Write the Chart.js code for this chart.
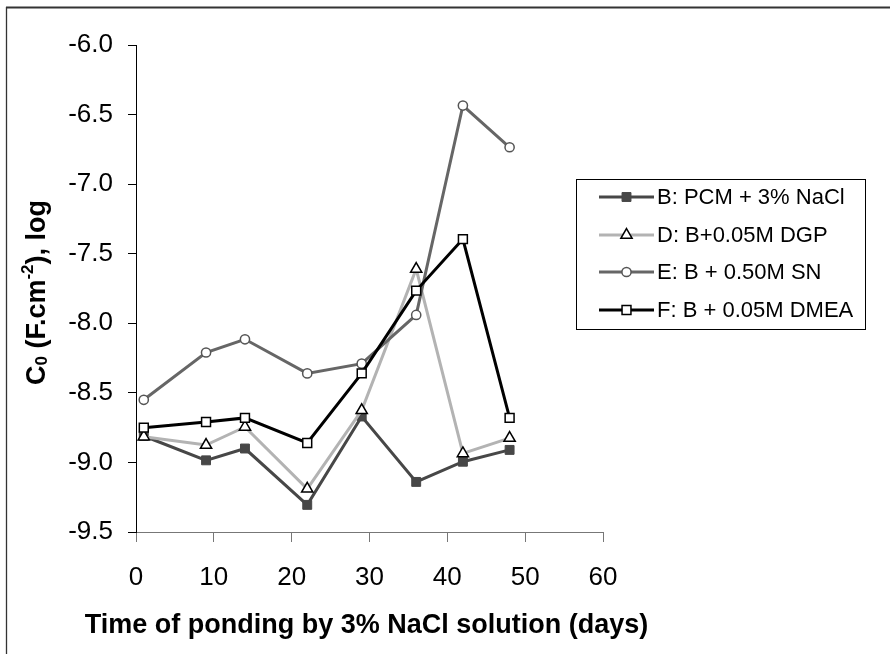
<!DOCTYPE html>
<html>
<head>
<meta charset="utf-8">
<title>C0 vs ponding time</title>
<script src="https://cdn.jsdelivr.net/npm/chart.js@4.4.1/dist/chart.umd.min.js"></script>
<style>
  html, body { margin: 0; padding: 0; background: #fff; }
  canvas { display: block; }
</style>
</head>
<body>
<canvas id="c0Chart" width="890" height="654"></canvas>
<script>
// data
const days = [1, 9, 14, 22, 29, 36, 42, 48];
const seriesB = [-8.81, -8.985, -8.90, -9.305, -8.67, -9.14, -8.995, -8.91];
const seriesD = [-8.815, -8.875, -8.745, -9.19, -8.625, -7.61, -8.935, -8.825];
const seriesE = [-8.55, -8.21, -8.115, -8.36, -8.29, -7.94, -6.435, -6.735];
const seriesF = [-8.75, -8.71, -8.68, -8.86, -8.36, -7.765, -7.395, -8.68];
const seriesLabels = ['B: PCM + 3% NaCl', 'D: B+0.05M DGP', 'E: B + 0.50M SN', 'F: B + 0.05M DMEA'];
const xTitle = 'Time of ponding by 3% NaCl solution (days)';

const FONT = '"Liberation Sans", Arial, sans-serif';
Chart.defaults.font.family = FONT;
Chart.defaults.color = '#000';

function toPoints(vals) {
  return days.map((d, i) => ({ x: d, y: vals[i] }));
}

// outer frame (top + left edge, as in the source image)
const framePlugin = {
  id: 'frame',
  afterDraw(chart) {
    const ctx = chart.ctx;
    ctx.save();
    ctx.strokeStyle = '#333';
    ctx.lineWidth = 2;
    ctx.beginPath();
    ctx.moveTo(6, 7.5);
    ctx.lineTo(890, 7.5);
    ctx.stroke();
    ctx.lineWidth = 1.3;
    ctx.beginPath();
    ctx.moveTo(6.5, 7);
    ctx.lineTo(6.5, 654);
    ctx.stroke();
    ctx.restore();
  }
};

// axis titles; the y one needs sub/superscript, the x one is wider than the axis
const titlesPlugin = {
  id: 'axisTitles',
  afterDraw(chart) {
    const ctx = chart.ctx;
    const big = 'bold 27px ' + FONT;
    const small = 'bold 17px ' + FONT;
    const parts = [
      { t: 'C', f: big, dy: 0 },
      { t: '0', f: small, dy: 2 },
      { t: ' (F.cm', f: big, dy: 0 },
      { t: '-2', f: small, dy: -12 },
      { t: '), log', f: big, dy: 0 }
    ];
    ctx.save();
    let total = 0;
    parts.forEach(p => { ctx.font = p.f; p.w = ctx.measureText(p.t).width; total += p.w; });
    const cy = (chart.chartArea.top + chart.chartArea.bottom) / 2 + 4;
    ctx.translate(45, cy);
    ctx.rotate(-Math.PI / 2);
    ctx.fillStyle = '#000';
    ctx.textBaseline = 'alphabetic';
    let x = -total / 2;
    parts.forEach(p => {
      ctx.font = p.f;
      ctx.fillText(p.t, x, p.dy);
      x += p.w;
    });
    ctx.restore();

    ctx.save();
    ctx.font = big;
    ctx.fillStyle = '#000';
    ctx.textAlign = 'center';
    ctx.textBaseline = 'alphabetic';
    ctx.fillText(xTitle, 366.5, 633);
    ctx.restore();
  }
};

// boxed legend that overlaps the plot's right edge
const boxLegendPlugin = {
  id: 'boxLegend',
  afterDraw(chart) {
    const ctx = chart.ctx;
    const left = 576.5, top = 179.5, w = 289, h = 150;
    ctx.save();
    ctx.fillStyle = '#fff';
    ctx.fillRect(left, top, w, h);
    ctx.strokeStyle = '#000';
    ctx.lineWidth = 1;
    ctx.strokeRect(left, top, w, h);
    ctx.font = '22px ' + FONT;
    ctx.textBaseline = 'middle';
    chart.data.datasets.forEach((ds, i) => {
      const y = Math.round(197 + i * 37.6);
      ctx.strokeStyle = ds.borderColor;
      ctx.lineWidth = ds.borderWidth;
      ctx.beginPath();
      ctx.moveTo(599, y);
      ctx.lineTo(654, y);
      ctx.stroke();
      ctx.fillStyle = ds.pointBackgroundColor;
      ctx.strokeStyle = ds.pointBorderColor;
      ctx.lineWidth = ds.pointBorderWidth;
      Chart.helpers.drawPoint(ctx, {
        pointStyle: ds.pointStyle,
        radius: ds.pointRadius,
        rotation: 0,
        borderWidth: ds.pointBorderWidth
      }, 626.5, y);
      ctx.fillStyle = '#000';
      ctx.fillText(ds.label, 657, y + 1);
    });
    ctx.restore();
  }
};

const ctx = document.getElementById('c0Chart').getContext('2d');
new Chart(ctx, {
  type: 'line',
  data: {
    datasets: [
      {
        label: seriesLabels[0],
        data: toPoints(seriesB),
        borderColor: '#474747',
        borderWidth: 3,
        pointStyle: 'rect',
        pointRadius: 6.3,
        pointBackgroundColor: '#474747',
        pointBorderColor: '#474747',
        pointBorderWidth: 1,
        order: 4
      },
      {
        label: seriesLabels[1],
        data: toPoints(seriesD),
        borderColor: '#b3b3b3',
        borderWidth: 3,
        pointStyle: 'triangle',
        pointRadius: 6.5,
        pointBackgroundColor: '#fff',
        pointBorderColor: '#000',
        pointBorderWidth: 1.5,
        order: 3
      },
      {
        label: seriesLabels[2],
        data: toPoints(seriesE),
        borderColor: '#666',
        borderWidth: 3,
        pointStyle: 'circle',
        pointRadius: 4.6,
        pointBackgroundColor: '#fff',
        pointBorderColor: '#555',
        pointBorderWidth: 1.5,
        order: 2
      },
      {
        label: seriesLabels[3],
        data: toPoints(seriesF),
        borderColor: '#000',
        borderWidth: 3,
        pointStyle: 'rect',
        pointRadius: 6.3,
        pointBackgroundColor: '#fff',
        pointBorderColor: '#000',
        pointBorderWidth: 1.5,
        order: 1
      }
    ]
  },
  options: {
    responsive: false,
    devicePixelRatio: 1,
    animation: false,
    layout: { padding: { left: 0, right: 287, top: 45, bottom: 0 } },
    plugins: {
      legend: { display: false },
      tooltip: { enabled: false }
    },
    elements: { line: { tension: 0 } },
    scales: {
      x: {
        type: 'linear',
        min: 0,
        max: 60,
        ticks: { stepSize: 10, padding: 20, font: { size: 26 }, color: '#000' },
        grid: { drawOnChartArea: false, drawTicks: true, tickLength: 10, color: '#777' },
        border: { color: '#777', width: 1 },
        afterFit(scale) {
          scale.height = 122;
          scale.paddingLeft = 0;
          scale.paddingRight = 0;
        }
      },
      y: {
        min: -9.5,
        max: -6.0,
        ticks: {
          stepSize: 0.5,
          padding: 15,
          font: { size: 26 },
          color: '#000',
          callback: v => v.toFixed(1)
        },
        grid: { drawOnChartArea: false, drawTicks: true, tickLength: 8, color: '#000' },
        border: { color: '#000', width: 1 },
        afterFit(scale) {
          scale.width = 136;
          scale.paddingTop = 0;
          scale.paddingBottom = 0;
        }
      }
    }
  },
  plugins: [framePlugin, titlesPlugin, boxLegendPlugin]
});
</script>
</body>
</html>
